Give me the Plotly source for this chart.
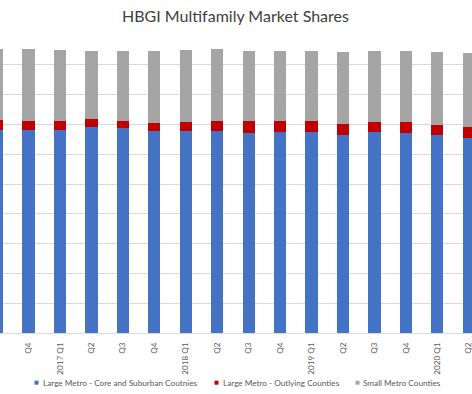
import plotly.graph_objects as go

# ---- data ----
quarters = ["2016 Q3", "2016 Q4", "2017 Q1", "2017 Q2", "2017 Q3", "2017 Q4",
            "2018 Q1", "2018 Q2", "2018 Q3", "2018 Q4", "2019 Q1", "2019 Q2",
            "2019 Q3", "2019 Q4", "2020 Q1", "2020 Q2"]
tick_labels = ["Q3", "Q4", "2017 Q1", "Q2", "Q3", "Q4", "2018 Q1", "Q2", "Q3",
               "Q4", "2019 Q1", "Q2", "Q3", "Q4", "2020 Q1", "Q2"]
core_suburban = [68.1, 68.2, 68.2, 69.0, 68.7, 67.9, 67.8, 67.9, 67.0, 67.4,
                 67.4, 66.6, 67.4, 67.0, 66.3, 65.3]
outlying = [3.4, 3.0, 3.0, 2.8, 2.5, 2.6, 2.9, 3.4, 4.0, 3.8,
            3.8, 3.6, 3.4, 3.7, 3.6, 3.8]
small_metro = [23.8, 24.2, 23.9, 22.9, 23.5, 24.1, 24.3, 24.0, 23.7, 23.4,
               23.5, 24.2, 23.9, 24.0, 24.5, 24.9]

series_names = ["Large Metro - Core and Suburban Coutnies",
                "Large Metro - Outlying Counties",
                "Small Metro Counties"]
colors = ["#4472C4", "#C00000", "#A5A5A5"]
title_text = "HBGI Multifamily Market Shares"

FONT = "Lato, 'Liberation Sans', Arial, sans-serif"

fig = go.Figure()
for name, vals, col in zip(series_names, [core_suburban, outlying, small_metro], colors):
    fig.add_trace(go.Bar(x=quarters, y=vals, name=name, marker_color=col,
                         marker_line_width=0, showlegend=False))

W, H = 472, 394
top, bottom = 35, 61
plot_h = H - top - bottom


def py_to_paper(py):
    return (H - bottom - py) / plot_h


# legend drawn as squares + text, positioned like the reference
legend_items = [(34.5, 41.5), (214.5, 221.5), (355.5, 362.0)]
annotations = []
shapes = []
for (sq_x, tx_x), name, col in zip(legend_items, series_names, colors):
    shapes.append(dict(type="rect", xref="paper", yref="paper",
                       x0=sq_x / W, x1=(sq_x + 4) / W,
                       y0=py_to_paper(384.7), y1=py_to_paper(380.7),
                       fillcolor=col, line_width=0))
    annotations.append(dict(text=name, xref="paper", yref="paper",
                            x=tx_x / W, y=py_to_paper(382.7),
                            xanchor="left", yanchor="middle", showarrow=False,
                            borderpad=0,
                            font=dict(family=FONT, size=8.2, color="#595959")))

spacing = 31.45
x0 = 1 - 28.5 / spacing
x1 = x0 + W / spacing

fig.update_layout(
    width=W, height=H,
    barmode="stack", bargap=0.61,
    paper_bgcolor="white", plot_bgcolor="white",
    margin=dict(l=0, r=0, t=top, b=bottom, pad=0),
    title=dict(text=title_text, x=235.5 / W, xanchor="center",
               y=1 - 16.5 / H, yanchor="middle", yref="container",
               font=dict(family=FONT, size=16, color="#404040")),
    font=dict(family=FONT, color="#595959"),
    xaxis=dict(type="category", range=[x0, x1], tickmode="array",
               tickvals=quarters, ticktext=tick_labels, tickangle=-90,
               tickfont=dict(size=8.1, color="#595959"), ticks="",
               showgrid=False, showline=False, zeroline=False,
               ticklabelstandoff=7),
    yaxis=dict(range=[0, 100], dtick=10, showticklabels=False,
               showgrid=True, gridcolor="#D9D9D9", gridwidth=1,
               zeroline=True, zerolinecolor="#D9D9D9", zerolinewidth=1,
               showline=False, ticks=""),
    annotations=annotations, shapes=shapes,
)

fig.write_html("out.html",
               config={"displayModeBar": False},
               post_script="document.body.style.margin='0px';"
                           "document.body.style.overflow='hidden';")
